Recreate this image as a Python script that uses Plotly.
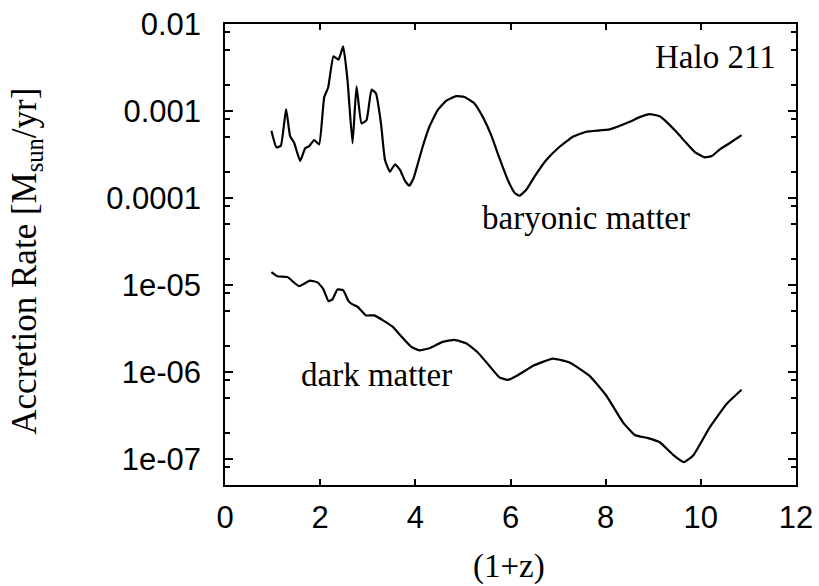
import plotly.graph_objects as go

# Baryonic matter accretion rate
bary_x = [0.975, 1.08, 1.173, 1.284, 1.368, 1.453, 1.579, 1.684, 1.768, 1.874, 1.979,
          2.084, 2.168, 2.28, 2.385, 2.484, 2.575, 2.68, 2.764, 2.869, 2.975, 3.08,
          3.173, 3.278, 3.362, 3.467, 3.573, 3.678, 3.783, 3.874, 3.964,
          4.015, 4.154, 4.295, 4.469, 4.646, 4.857, 5.032, 5.242, 5.417, 5.594, 5.768,
          5.943, 6.084, 6.189, 6.331, 6.505, 6.752, 7.032, 7.312, 7.594, 8.084, 8.505,
          8.716, 8.926, 9.137, 9.278, 9.49, 9.699, 9.874, 10.084, 10.232, 10.4, 10.61,
          10.857]
bary_y = [5.92e-4, 3.82e-4, 3.98e-4, 1.05e-3, 5.14e-4, 4.31e-4, 2.66e-4, 3.72e-4, 3.95e-4,
          4.63e-4, 4.13e-4, 1.43e-3, 1.86e-3, 4.25e-3, 3.89e-3, 5.52e-3, 2.25e-3, 4.25e-4,
          1.92e-3, 7.19e-4, 7.85e-4, 1.76e-3, 1.585e-3, 7.19e-4, 2.73e-4, 2.0e-4, 2.44e-4,
          2.10e-4, 1.57e-4, 1.38e-4, 1.69e-4,
          2.10e-4, 3.88e-4, 6.58e-4, 1.02e-3, 1.31e-3, 1.48e-3, 1.45e-3, 1.22e-3, 8.55e-4,
          5.28e-4, 2.86e-4, 1.61e-4, 1.15e-4, 1.06e-4, 1.24e-4, 1.76e-4, 2.73e-4, 3.88e-4,
          5.05e-4, 5.77e-4, 6.14e-4, 7.5e-4, 8.49e-4, 9.19e-4, 8.7e-4, 7.5e-4, 5.72e-4,
          4.25e-4, 3.37e-4, 2.93e-4, 3.03e-4, 3.62e-4, 4.28e-4, 5.28e-4]

# Dark matter accretion rate
dark_x = [0.975, 1.101, 1.312, 1.453, 1.558, 1.663, 1.783, 1.943, 2.063, 2.175, 2.259,
          2.364, 2.484, 2.596, 2.68, 2.785, 2.962, 3.137, 3.312, 3.522, 3.699, 3.909,
          4.084, 4.295, 4.575, 4.821, 5.067, 5.312, 5.558, 5.768, 5.943, 6.154, 6.469,
          6.891, 7.242, 7.663, 8.015, 8.364, 8.611, 8.891, 9.137, 9.417, 9.642, 9.838,
          10.189, 10.541, 10.857]
dark_y = [1.40e-5, 1.26e-5, 1.23e-5, 1.06e-5, 9.66e-6, 1.03e-5, 1.12e-5, 1.07e-5, 9.02e-6,
          6.50e-6, 6.81e-6, 8.85e-6, 8.69e-6, 6.50e-6, 5.96e-6, 5.61e-6, 4.46e-6, 4.46e-6,
          3.94e-6, 3.31e-6, 2.58e-6, 1.95e-6, 1.77e-6, 1.87e-6, 2.21e-6, 2.33e-6, 2.13e-6,
          1.67e-6, 1.17e-6, 8.63e-7, 8.09e-7, 9.16e-7, 1.17e-6, 1.42e-6, 1.28e-6, 9.0e-7,
          5.31e-7, 2.63e-7, 1.88e-7, 1.73e-7, 1.55e-7, 1.11e-7, 9.16e-8, 1.09e-7, 2.31e-7,
          4.27e-7, 6.22e-7]

x_ticks = [0, 2, 4, 6, 8, 10, 12]
y_ticks = [1e-7, 1e-6, 1e-5, 1e-4, 1e-3, 1e-2]
y_ticktext = ["1e-07", "1e-06", "1e-05", "0.0001", "0.001", "0.01"]
y_minor = [m * 10.0 ** e for e in range(-8, -2) for m in (2, 5, 8)]

fig = go.Figure()
fig.add_trace(go.Scatter(x=bary_x, y=bary_y, mode="lines",
                         line=dict(color="black", width=2.2, shape="spline", smoothing=0.4),
                         showlegend=False))
fig.add_trace(go.Scatter(x=dark_x, y=dark_y, mode="lines",
                         line=dict(color="black", width=2.2, shape="spline", smoothing=0.4),
                         showlegend=False))

serif = "Liberation Serif, Times New Roman, serif"
sans = "Liberation Sans, Arial, sans-serif"

fig.update_layout(
    width=819, height=586,
    margin=dict(l=225, r=23, t=24, b=101),
    paper_bgcolor="white", plot_bgcolor="white",
    font=dict(family=sans, color="black"),
    xaxis=dict(range=[0, 12], tickmode="array", tickvals=x_ticks, automargin=False,
               ticks="inside", ticklen=6, tickwidth=1.5, tickcolor="black",
               showline=True, linecolor="black", linewidth=1.5, mirror="ticks",
               showgrid=False, zeroline=False, ticklabelstandoff=4,
               tickfont=dict(family=sans, size=31, color="black")),
    yaxis=dict(type="log", range=[-7.301, -2], tickmode="array", tickvals=y_ticks,
               ticktext=y_ticktext, automargin=False,
               ticks="inside", ticklen=8, tickwidth=1.5, tickcolor="black",
               showline=True, linecolor="black", linewidth=1.5, mirror="ticks",
               showgrid=False, zeroline=False, ticklabelstandoff=16,
               tickfont=dict(family=sans, size=31, color="black"),
               minor=dict(tickmode="array", tickvals=y_minor, ticks="inside",
                          ticklen=5, tickwidth=1.5, tickcolor="black", showgrid=False)),
    annotations=[
        dict(text="Halo 211", xref="paper", yref="paper", x=0.968, y=0.928,
             xanchor="right", yanchor="middle", showarrow=False,
             font=dict(family=serif, size=33, color="black")),
        dict(text="baryonic matter", xref="paper", yref="paper", x=0.632, y=0.58,
             xanchor="center", yanchor="middle", showarrow=False,
             font=dict(family=serif, size=33, color="black")),
        dict(text="dark matter", xref="paper", yref="paper", x=0.265, y=0.238,
             xanchor="center", yanchor="middle", showarrow=False,
             font=dict(family=serif, size=33, color="black")),
        dict(text="Accretion Rate [M<sub>sun</sub>/yr]", xref="paper", yref="paper",
             x=-0.348, y=0.485, xanchor="center", yanchor="middle", textangle=-90,
             showarrow=False, font=dict(family=serif, size=35, color="black")),
        dict(text="(1+z)", xref="paper", yref="paper", x=0.498, y=-0.177,
             xanchor="center", yanchor="middle", showarrow=False,
             font=dict(family=serif, size=33, color="black")),
    ],
)

fig.write_html("out.html", config={"displayModeBar": False},
               post_script="document.body.style.margin='0';document.body.style.overflow='hidden';")
